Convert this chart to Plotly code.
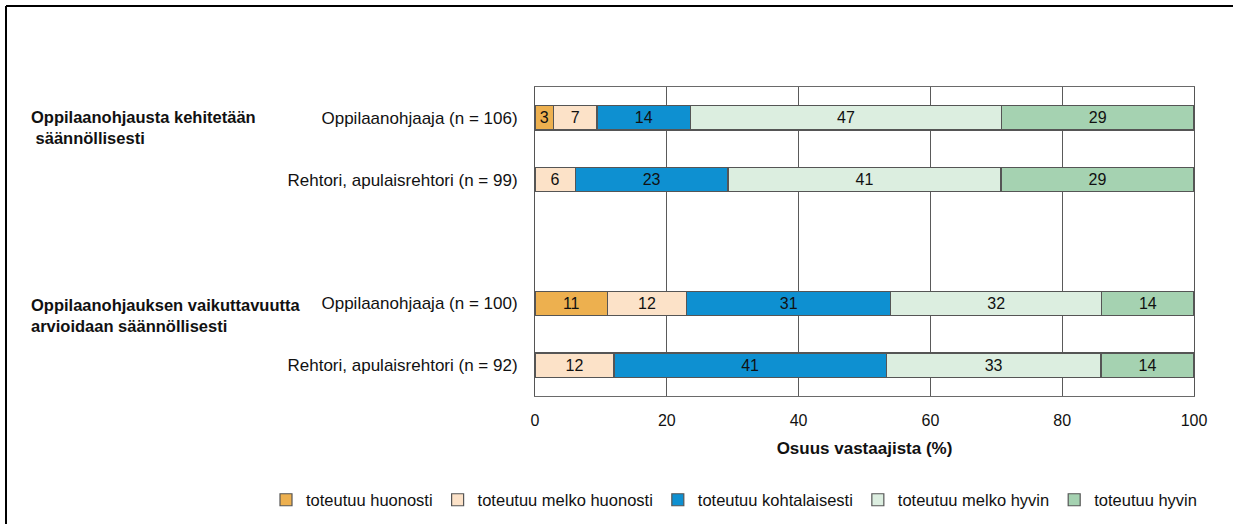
import plotly.graph_objects as go

# ---- data ----
row_labels = ["Oppilaanohjaaja (n = 106)", "Rehtori, apulaisrehtori (n = 99)", "",
              "Oppilaanohjaaja (n = 100)", "Rehtori, apulaisrehtori (n = 92)"]
row_pos = [0, 1, 3, 4]
group_labels = ["Oppilaanohjausta kehitetään<br> säännöllisesti",
                "Oppilaanohjauksen vaikuttavuutta<br>arvioidaan säännöllisesti"]
series_names = ["toteutuu huonosti", "toteutuu melko huonosti", "toteutuu kohtalaisesti",
                "toteutuu melko hyvin", "toteutuu hyvin"]
huonosti = [2.8, None, 11.0, None]
melko_huonosti = [6.6, 6.1, 12.0, 12.0]
kohtalaisesti = [14.2, 23.2, 31.0, 41.3]
melko_hyvin = [47.2, 41.4, 32.0, 32.6]
hyvin = [29.2, 29.3, 14.0, 14.1]
series_values = [huonosti, melko_huonosti, kohtalaisesti, melko_hyvin, hyvin]
colors = ["#EDB04F", "#FCE2C8", "#0E90D1", "#DCEEE0", "#A5D2B1"]
x_ticks = [0, 20, 40, 60, 80, 100]

FONT = "Liberation Sans, Arial, sans-serif"
TXT = "#111111"

fig = go.Figure()
for name, vals, col in zip(series_names, series_values, colors):
    fig.add_trace(go.Bar(
        y=row_pos, x=vals, name=name, orientation="h",
        marker=dict(color=col, line=dict(color="#555555", width=1.2)),
        width=0.39,
        text=[("" if v is None else f"{v:.0f}") for v in vals],
        textposition="inside", insidetextanchor="middle", textangle=0,
        constraintext="none",
        textfont=dict(family=FONT, size=16, color=TXT),
        hoverinfo="x+name",
    ))

W, H = 1235, 524
ml, mr, mt, mb = 535, 41, 87, 128
pw, ph = W - ml - mr, H - mt - mb

def px_x(px):
    return (px - ml) / pw

def px_y(py):
    return (H - mb - py) / ph

bold = dict(family=FONT, size=16.5, color=TXT, weight="bold")
annotations = [
    dict(text=group_labels[0], xref="paper", yref="y", x=px_x(29), y=0.16,
         xanchor="left", yanchor="middle", showarrow=False, align="left", font=bold),
    dict(text=group_labels[1], xref="paper", yref="y", x=px_x(29), y=3.2,
         xanchor="left", yanchor="middle", showarrow=False, align="left", font=bold),
]

shapes = [
    dict(type="line", xref="paper", yref="paper", x0=px_x(6), x1=px_x(1233),
         y0=px_y(6), y1=px_y(6), line=dict(color="black", width=2)),
    dict(type="line", xref="paper", yref="paper", x0=px_x(6), x1=px_x(6),
         y0=px_y(6), y1=px_y(530), line=dict(color="black", width=2)),
]

fig.update_layout(
    width=W, height=H, barmode="stack",
    margin=dict(l=ml, r=mr, t=mt, b=mb, autoexpand=False),
    paper_bgcolor="white", plot_bgcolor="white",
    font=dict(family=FONT, size=16, color=TXT),
    showlegend=True,
    legend=dict(orientation="h", xref="paper", yref="paper",
                x=px_x(266), xanchor="left", y=px_y(500), yanchor="middle",
                font=dict(family=FONT, size=16.5, color=TXT),
                traceorder="normal", itemwidth=30),
    annotations=annotations, shapes=shapes,
    xaxis=dict(range=[0, 100], tickvals=x_ticks, showgrid=True, gridcolor="#5a5a5a",
               gridwidth=1, showline=True, linecolor="#6a6a6a", mirror=True,
               zeroline=False, ticks="", ticklabelstandoff=10,
               tickfont=dict(family=FONT, size=16, color=TXT),
               title=dict(text="Osuus vastaajista (%)", standoff=13,
                          font=dict(family=FONT, size=17, color=TXT, weight="bold"))),
    yaxis=dict(range=[4.5, -0.5], tickvals=[0, 1, 2, 3, 4], ticktext=row_labels,
               showgrid=False, showline=True, linecolor="#555555", mirror=True,
               zeroline=False, ticks="", ticklabelstandoff=13,
               tickfont=dict(family=FONT, size=17, color=TXT)),
)

fig.write_html("out.html", config={"displayModeBar": False},
               post_script="document.body.style.margin='0';")
